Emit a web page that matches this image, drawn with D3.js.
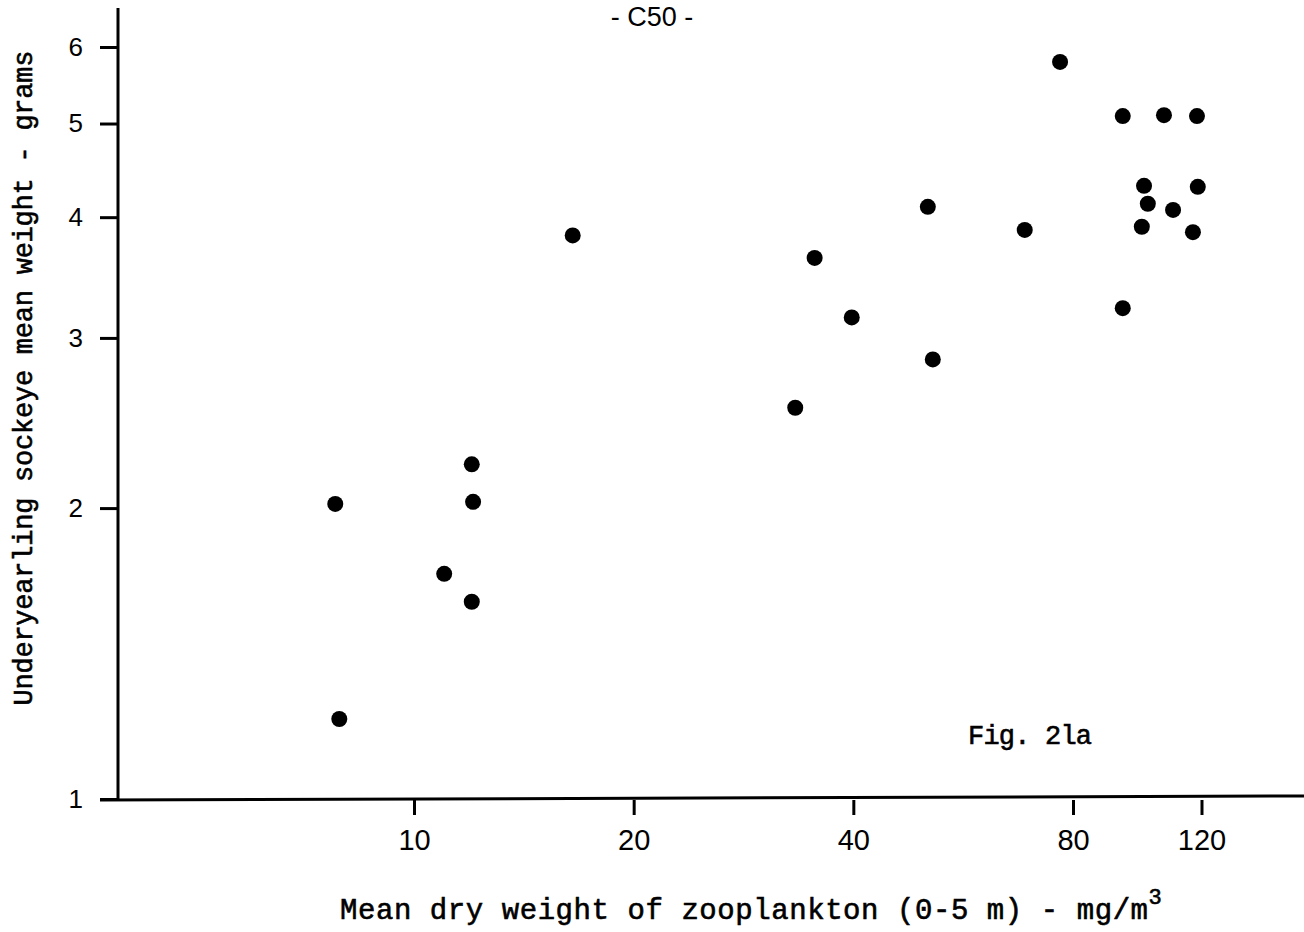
<!DOCTYPE html>
<html>
<head>
<meta charset="utf-8">
<script src="https://cdn.jsdelivr.net/npm/d3@7"></script>
<style>
  html, body { margin: 0; padding: 0; background: #fff; }
  svg { display: block; }
  .mono { font-family: "Liberation Mono", "DejaVu Sans Mono", monospace; fill: #000; stroke: #000; stroke-width: 0.6px; }
  .sans { font-family: "Liberation Sans", "DejaVu Sans", sans-serif; fill: #000; }
</style>
</head>
<body>
<svg id="chart" width="1304" height="932"></svg>
<script>
// ----------- Data --------------------------------
const zooplankton = [7.8, 7.9, 11.0, 12.0, 12.05, 12.0, 16.5, 33.3, 35.4, 39.8, 50.6, 51.4,
                     68.7, 76.8, 93.6, 93.6, 106.6, 118.3, 100.1, 101.3, 99.4, 109.7, 118.6, 116.8];
const sockeyeWeight = [2.02, 1.21, 1.71, 1.60, 2.03, 2.22, 3.83, 2.54, 3.63, 3.15, 4.10, 2.85,
                       3.88, 5.79, 5.09, 3.22, 5.10, 5.09, 4.31, 4.13, 3.91, 4.07, 4.30, 3.86];
const xTicks = [10, 20, 40, 80, 120];
const yTicks = [1, 2, 3, 4, 5, 6];

const points = zooplankton.map((d, i) => ({ x: d, y: sockeyeWeight[i] }));

// ----------- Scales (log-log) ------------
const x = d3.scaleLog().domain([10, 80]).range([414, 1073]);
const y = d3.scaleLog().domain([1, 6]).range([799, 47]);

const svg = d3.select("#chart");

// axis lines (drawn a bit past the data range like the original)
const axisY = y(1) + 1;
const axisX = 118;

svg.append("line")
  .attr("x1", axisX).attr("x2", axisX)
  .attr("y1", 8).attr("y2", axisY)
  .attr("stroke", "#000").attr("stroke-width", 3);

svg.append("line")
  .attr("x1", 100).attr("x2", 1304)
  .attr("y1", axisY).attr("y2", axisY - 4)
  .attr("stroke", "#000").attr("stroke-width", 3);

// ----------- Y axis ticks ------------
const yAxis = d3.axisLeft(y)
  .tickValues(yTicks)
  .tickFormat(d3.format("d"))
  .tickSize(18)
  .tickPadding(17);

const gy = svg.append("g")
  .attr("transform", `translate(${axisX},0)`)
  .call(yAxis);
gy.select(".domain").remove();
gy.selectAll(".tick line").attr("stroke", "#000").attr("stroke-width", 3);
gy.selectAll(".tick text")
  .attr("class", "sans")
  .attr("font-size", null)
  .style("font-size", "26px");

// ----------- X axis ticks ------------
const xAxis = d3.axisBottom(x)
  .tickValues(xTicks)
  .tickFormat(d3.format("d"))
  .tickSize(15)
  .tickPadding(14);

const gx = svg.append("g")
  .attr("transform", `translate(0,${axisY})`)
  .call(xAxis);
gx.select(".domain").remove();
gx.selectAll(".tick line").attr("stroke", "#000").attr("stroke-width", 3);
gx.selectAll(".tick text")
  .attr("class", "sans")
  .style("font-size", "29px");

// ----------- Points ------------
svg.append("g")
  .selectAll("circle")
  .data(points)
  .enter()
  .append("circle")
  .attr("cx", d => x(d.x))
  .attr("cy", d => y(d.y))
  .attr("r", 8)
  .attr("fill", "#000");

// ----------- Texts ------------
svg.append("text")
  .attr("class", "sans")
  .attr("x", 652).attr("y", 26)
  .attr("text-anchor", "middle")
  .style("font-size", "27px")
  .text("- C50 -");

svg.append("text")
  .attr("class", "mono")
  .attr("transform", "translate(32,378) rotate(-90)")
  .attr("text-anchor", "middle")
  .attr("textLength", 655)
  .attr("lengthAdjust", "spacing")
  .style("font-size", "27px")
  .text("Underyearling sockeye mean weight - grams");

const xLabel = svg.append("text")
  .attr("class", "mono")
  .attr("x", 340).attr("y", 919)
  .style("font-size", "29px");
xLabel.append("tspan")
  .attr("textLength", 808)
  .attr("lengthAdjust", "spacing")
  .text("Mean dry weight of zooplankton (0-5 m) - mg/m");
xLabel.append("tspan")
  .attr("dy", -15)
  .style("font-size", "22px")
  .text("3");

svg.append("text")
  .attr("class", "mono")
  .attr("x", 968).attr("y", 744)
  .attr("textLength", 124)
  .attr("lengthAdjust", "spacing")
  .style("font-size", "27px")
  .text("Fig. 2la");
</script>
</body>
</html>
